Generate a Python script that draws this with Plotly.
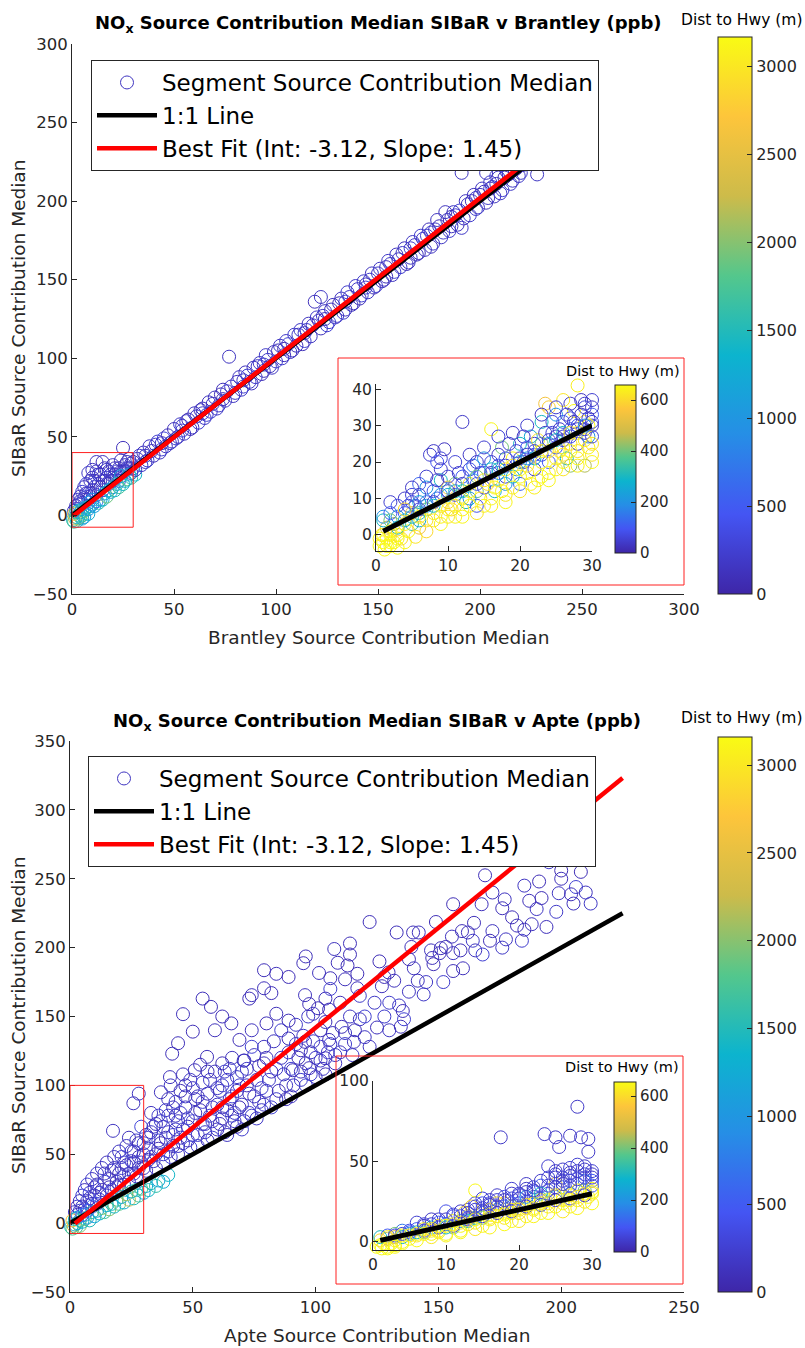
import plotly.graph_objects as go

W, H = 805, 1348
FONT = "DejaVu Sans"
TXT = "#262626"

# ---------------- DATA ----------------
# (reference median, SIBaR median, distance to highway m)
brantley_points = [
    (2, 6, 150), (3, 10, 200), (4, 12, 100), (5, 15, 250), (6, 18, 120), (7, 20, 300), (8, 14, 200),
    (9, 22, 150), (10, 24, 100), (12, 28, 200), (11, 18, 250), (13, 20, 180), (14, 26, 300), (15, 22, 120),
    (16, 30, 100), (17, 24, 220), (18, 28, 160), (19, 22, 90), (20, 32, 150), (21, 26, 200), (22, 24, 300),
    (23, 30, 180), (24, 35, 110), (25, 28, 240), (26, 32, 130), (27, 30, 170), (28, 36, 200), (29, 27, 150),
    (30, 34, 100), (30, 30, 300), (12, 34, 150), (25, 43, 120),
    (1, 3, 140), (2, 4, 220), (3, 7, 160), (4, 9, 90), (5, 8, 200), (6, 11, 250), (7, 14, 120), (8, 10, 180),
    (9, 12, 140), (10, 16, 220), (11, 22, 90), (12, 13, 160), (13, 26, 200), (14, 18, 120), (15, 16, 250),
    (16, 22, 140), (17, 29, 180), (18, 20, 90), (19, 26, 220), (20, 22, 160), (21, 30, 120), (22, 28, 200),
    (23, 22, 250), (24, 28, 140), (26, 28, 180), (27, 34, 90), (28, 30, 160), (29, 33, 220), (15, 34, 120),
    (10, 29, 140), (8, 27, 200),
    (0.5, -3, 1500), (1, -4, 1700), (1.5, -2, 2200), (2, -1, 1400), (2.5, -3.5, 1300), (3, -2, 2000),
    (3.5, 0, 1600), (4, -1, 1900), (5, -2, 1200), (1, 1, 2600), (2, 2, 1800), (3, 3, 1100), (4, 2, 1500),
    (5, 4, 1300), (6, 3, 1700), (7, 5, 1400), (8, 4, 1000), (6, -1, 1100), (9, 6, 1200), (10, 7, 900),
    (12, 9, 700), (14, 10, 1300), (16, 14, 1200), (18, 16, 1400), (20, 18, 1000), (22, 20, 1600),
    (25, 20, 1400), (27, 23, 1800), (28, 26, 1300), (24, 25, 1200),
    (5, 0, 1500), (8, 1, 1300), (11, 6, 1100), (13, 8, 1600), (15, 10, 1400), (17, 12, 1900), (19, 15, 1200),
    (21, 16, 1500), (23, 18, 1700), (26, 22, 1300), (29, 24, 1600), (31, 26, 1400), (8, 8, 900), (10, 10, 1000),
    (32, 36, 150), (34, 32, 200), (35, 40, 120), (37, 35, 260), (38, 44, 180), (40, 38, 100), (42, 47, 220),
    (43, 40, 150), (45, 49, 300), (46, 44, 130), (48, 46, 200), (50, 55, 110), (51, 49, 250), (53, 58, 170),
    (55, 52, 140), (56, 60, 200), (58, 55, 90), (60, 65, 160), (62, 59, 230), (63, 67, 120), (65, 62, 180),
    (67, 72, 140), (68, 66, 260), (70, 75, 150), (72, 70, 200), (74, 80, 110), (75, 73, 170), (77, 101, 150),
    (78, 82, 210), (80, 78, 130), (82, 88, 160), (84, 82, 250), (85, 91, 120), (87, 85, 190), (89, 94, 140),
    (90, 88, 220), (92, 97, 160), (94, 92, 110), (95, 102, 200), (97, 95, 150), (99, 104, 130), (100, 98, 240),
    (102, 108, 170), (104, 102, 120), (105, 111, 190), (107, 104, 150), (109, 115, 210), (110, 108, 130),
    (112, 118, 180), (114, 111, 250), (116, 122, 140), (117, 114, 160), (119, 136, 120), (122, 139, 170),
    (120, 126, 200), (122, 119, 110), (124, 130, 150), (126, 123, 230), (128, 134, 130), (130, 127, 190),
    (132, 138, 160), (134, 131, 110), (135, 142, 220), (137, 134, 140), (139, 146, 180), (141, 138, 120),
    (143, 149, 200), (145, 142, 150), (147, 154, 130), (149, 146, 240), (151, 157, 170), (153, 150, 110),
    (155, 162, 190), (157, 153, 150), (159, 166, 140), (161, 158, 210), (163, 170, 120), (165, 161, 180),
    (167, 174, 160), (169, 166, 130), (171, 178, 230), (173, 169, 150), (175, 182, 110), (177, 173, 200),
    (179, 188, 140), (181, 177, 170), (183, 193, 130), (185, 181, 220), (187, 193, 150), (189, 185, 120),
    (191, 218, 160), (191, 183, 190), (193, 200, 140), (195, 191, 210), (197, 204, 130), (199, 196, 170),
    (201, 208, 150), (203, 199, 110), (205, 212, 190), (207, 203, 140), (209, 215, 160), (211, 207, 230),
    (213, 219, 120), (215, 211, 180), (217, 220, 150), (219, 216, 200), (221, 223, 130), (228, 217, 170),
    (203, 218, 150),
    (31, 29, 140), (33, 38, 220), (36, 34, 160), (39, 41, 90), (41, 45, 200), (44, 42, 250), (47, 51, 120),
    (49, 47, 180), (52, 50, 140), (54, 57, 220), (57, 61, 90), (59, 56, 160), (61, 63, 200), (64, 68, 120),
    (66, 64, 250), (69, 71, 140), (71, 68, 180), (73, 77, 90), (76, 79, 220), (79, 76, 160), (81, 85, 120),
    (83, 80, 200), (86, 89, 250), (88, 84, 140), (91, 95, 180), (93, 90, 90), (96, 99, 220), (98, 94, 160),
    (101, 105, 120), (103, 100, 200), (106, 109, 250), (108, 105, 140), (111, 115, 180), (113, 109, 90),
    (115, 118, 220), (118, 121, 160), (121, 124, 120), (123, 127, 200), (125, 121, 250), (127, 131, 140),
    (129, 126, 180), (131, 135, 90), (133, 129, 220), (136, 139, 160), (138, 135, 120), (140, 144, 200),
    (142, 140, 250), (144, 147, 140), (146, 150, 180), (148, 145, 90), (150, 154, 220), (152, 149, 160),
    (154, 158, 120), (156, 160, 200), (158, 155, 250), (160, 163, 140), (162, 167, 180), (164, 160, 90),
    (166, 170, 220), (168, 172, 160), (170, 167, 120), (172, 176, 200), (174, 178, 250), (176, 171, 140),
    (178, 182, 180), (180, 184, 90), (182, 180, 220), (184, 188, 160), (186, 184, 120), (188, 191, 200),
    (190, 194, 250), (192, 189, 140), (194, 198, 180), (196, 200, 90), (198, 195, 220), (200, 204, 160),
    (202, 206, 120), (204, 202, 200), (206, 209, 250), (208, 211, 140), (210, 205, 180), (212, 215, 90),
    (214, 217, 220), (216, 213, 160), (218, 221, 120), (220, 218, 200), (208, 216, 250), (205, 208, 140),
    (198, 202, 180), (186, 190, 90), (176, 180, 220), (166, 164, 160), (154, 152, 120), (144, 145, 200),
    (134, 136, 250), (124, 125, 140), (114, 116, 180), (104, 106, 90), (94, 96, 220), (84, 86, 160),
    (74, 74, 120), (64, 65, 200), (54, 54, 250), (44, 46, 140), (36, 38, 180),
]

brantley_inset_points = [
    (3, 8, 80), (0.5, -3, 700), (1, -2, 650), (1.2, -4, 800), (1.5, -1, 700), (2, -3, 900), (2.5, -2, 650),
    (3, -3.5, 700), (0.8, 0, 600), (1.5, 2, 500), (2, 0, 620), (3, 0, 680), (3.5, -1, 600), (4, -2, 650),
    (4.5, 1, 700), (2.5, 3, 450), (1, 4, 300), (3, 5, 200), (4, 6, 100), (5, 3, 350), (5.5, -0.5, 620),
    (6, 2, 550), (7, 1, 600), (2, 9, 50), (4, 10, 40), (5, 11, 60), (5.5, 8, 150), (6, 9, 250), (7, 7, 400),
    (8, 6, 640), (8.5, 10, 120), (7.5, 22, 50), (8, 23, 40), (9, 21, 60), (9.5, 23.5, 30), (8.5, 20, 90),
    (6, 14, 120), (7, 13, 200), (9, 15, 300), (10, 13, 550), (10, 9, 600), (11, 11, 80), (11, 5, 650),
    (12, 31, 40), (12, 16, 100), (12.5, 9, 300), (13, 14, 620), (13.5, 19, 150), (14, 12, 400), (14.5, 17, 60),
    (15, 8, 650), (15, 21, 200), (16, 15, 620), (16, 29, 650), (16.5, 12, 300), (17, 19, 100), (17.5, 24, 400),
    (18, 16, 60), (18, 11, 620), (19, 21, 650), (19.5, 18, 200), (20, 14, 120), (20, 25, 300), (20.5, 20, 50),
    (21, 17, 620), (21.5, 27, 250), (22, 22, 80), (22.5, 15, 650), (23, 25, 400), (23, 31, 300), (23.5, 36, 550),
    (24, 35, 580), (24, 20, 100), (24.5, 28, 60), (25, 18, 650), (25, 33, 200), (25.5, 23, 620), (26, 26, 40),
    (26, 31, 120), (26.5, 21, 300), (27, 19, 420), (27, 29, 70), (27.5, 34, 650), (28, 41, 640), (28.5, 41.5, 660),
    (28, 25, 50), (28.5, 37, 30), (29, 35, 60), (29, 31, 620), (29.5, 27, 200), (29.5, 24, 650), (30, 30, 40),
    (30, 22, 620), (29, 19, 450), (30, 33, 100), (28, 28, 620), (26, 24, 650), (22, 18, 60), (18, 14, 200),
    (14, 8, 80), (10, 5, 620), (12, 7, 640), (16, 10, 650), (20, 16, 650), (24, 23, 620), (26, 20, 650),
    (6, 4, 250), (9, 3, 650), (11, 14, 400), (13, 10, 200), (15, 13, 50), (17, 15, 620), (19, 13, 650),
    (21, 22, 40), (23, 16, 660), (25, 27, 50), (27, 25, 620), (29, 28, 30),
    (1, 5, 200), (2, 6, 100), (2, 4, 400), (3, 2, 300), (4, 4, 250), (4.5, 8, 60), (5, 6, 500), (5, 9, 80),
    (6, 6, 350), (6, 11, 50), (7, 9, 150), (7, 4, 620), (8, 12, 90), (8, 8, 300), (8.5, 15, 40), (9, 11, 200),
    (9, 5, 650), (10, 16, 60), (10, 11, 250), (10.5, 7, 600), (11, 8, 620), (11.5, 17, 40), (12, 12, 300),
    (12, 10, 640), (13, 18, 80), (13, 8, 650), (13.5, 15, 200), (14, 20, 50), (14, 16, 400), (14.5, 10, 620),
    (15, 17, 100), (15.5, 14, 600), (16, 20, 60), (16, 18, 300), (16.5, 13, 650), (17, 22, 40), (17, 17, 200),
    (17.5, 12, 640), (18, 21, 90), (18, 18, 620), (18.5, 25, 50), (19, 16, 300), (19.5, 23, 60), (20, 20, 200),
    (20, 18, 650), (20.5, 27, 40), (21, 24, 100), (21, 19, 620), (21.5, 14, 650), (22, 25, 50), (22, 21, 300),
    (22.5, 26, 620), (23, 22, 80), (23, 20, 640), (23.5, 28, 40), (24, 25, 200), (24, 17, 650), (24.5, 31, 60),
    (25, 24, 100), (25, 21, 620), (25.5, 29, 40), (26, 28, 300), (26, 22, 600), (26.5, 33, 50), (27, 27, 80),
    (27, 23, 650), (27.5, 31, 40), (28, 30, 100), (28, 23, 620), (28.5, 33, 30), (29, 29, 50), (29, 26, 640),
    (29.5, 32, 40), (29.5, 30, 650), (30, 27, 60), (30, 25, 620), (30, 35, 40), (28, 21, 650), (27, 36, 40),
    (26, 37, 620),
    (2, 1, 650), (3, 1.5, 600), (4, 3, 640), (5, 5, 300), (6, 7, 60), (7, 8, 200), (8, 9, 40), (9, 8, 620),
    (10, 12, 50), (11, 12, 300), (12, 14, 60), (13, 12, 650), (14, 14, 100), (15, 15, 620), (16, 17, 40),
    (17, 18, 300), (18, 19, 60), (19, 19, 620), (20, 21, 40), (21, 21, 200), (22, 23, 60), (23, 23, 640),
    (24, 26, 40), (25, 26, 300), (26, 27, 60), (27, 28, 620), (28, 29, 40), (29, 30, 200), (30, 31, 60),
    (4, 7, 600), (6, 5, 650), (8, 4, 620), (10, 7, 640), (12, 5, 650), (14, 6, 620), (16, 8, 640), (18, 9, 650),
    (20, 12, 620), (22, 13, 640), (24, 15, 650), (26, 18, 620), (28, 19, 640), (30, 20, 650), (5, 13, 40),
    (7, 16, 50), (9, 18, 40), (11, 20, 60), (13, 22, 40), (15, 24, 50), (17, 27, 60), (19, 28, 40), (21, 30, 50),
    (23, 33, 40), (25, 35, 50), (27, 32, 60), (29, 36, 40), (30, 37, 50), (3, -1, 650), (2, -2, 700),
    (1.5, -3, 800), (0.5, -1, 650), (1, 0, 700),
]

apte_points = [
    (2, 8, 150), (3, 12, 200), (4, 16, 100), (5, 20, 250), (6, 24, 120), (7, 28, 300), (8, 18, 200),
    (9, 32, 150), (10, 26, 100), (11, 36, 200), (12, 22, 250), (13, 40, 180), (14, 30, 300), (15, 44, 120),
    (16, 26, 100), (17, 38, 220), (17.5, 67, 150), (18, 48, 160), (19, 30, 90), (20, 52, 150), (21, 40, 200),
    (22, 34, 300), (23, 56, 180), (24, 62, 110), (25, 45, 240), (25.8, 87, 130), (26, 36, 170), (27, 60, 200),
    (28, 94, 150), (28, 48, 100), (29, 70, 300), (30, 40, 150), (31, 64, 120), (32, 54, 200), (33, 80, 140),
    (34, 45, 180), (35, 72, 110), (36, 60, 250), (37, 95, 130), (38, 50, 170), (39, 82, 200), (40, 66, 140),
    (41, 100, 160), (42, 56, 120), (43, 88, 210), (44, 74, 150), (45, 62, 180), (46, 108, 130), (47, 92, 200),
    (48, 70, 110), (49, 55, 240), (50, 98, 160), (51, 80, 140), (52, 64, 190), (53, 115, 120), (54, 88, 220),
    (55, 72, 150), (56, 60, 130), (57, 104, 180), (58, 84, 200), (60, 68, 140), (61, 96, 160), (62, 76, 120),
    (63, 110, 210), (64, 64, 150), (65, 90, 180), (66, 120, 130), (67, 80, 200), (68, 70, 110), (69, 100, 240),
    (70, 86, 160), (71, 74, 140), (72, 112, 190), (73, 94, 120), (74, 78, 220), (75, 122, 150), (76, 104, 130),
    (77, 88, 180), (78, 82, 200), (79, 128, 140), (80, 96, 160), (82, 110, 120), (84, 90, 210), (86, 120, 150),
    (88, 100, 180), (90, 92, 130), (92, 130, 200), (94, 110, 110), (96, 100, 240), (98, 124, 160),
    (100, 106, 140), (102, 118, 190), (104, 108, 120), (106, 130, 220), (108, 116, 150), (110, 124, 130),
    (112, 138, 180), (115, 122, 200), (118, 148, 140), (120, 135, 160), (125, 142, 120), (130, 160, 210),
    (138, 168, 150), (145, 175, 180), (165, 198, 130),
    (20, 28, 140), (22, 44, 220), (24, 36, 160), (26, 52, 90), (28, 40, 200), (30, 58, 250), (32, 46, 120),
    (33, 66, 180), (35, 50, 140), (36, 78, 220), (37, 58, 90), (38, 70, 160), (40, 52, 200), (40, 90, 120),
    (42, 64, 250), (43, 78, 140), (44, 56, 180), (45, 96, 90), (46, 68, 220), (47, 84, 160), (48, 60, 120),
    (49, 104, 200), (50, 74, 250), (51, 90, 140), (52, 56, 180), (53, 82, 90), (54, 102, 220), (55, 66, 160),
    (56, 94, 120), (57, 78, 200), (58, 62, 250), (59, 110, 140), (60, 86, 180), (61, 72, 90), (62, 100, 220),
    (63, 66, 160), (64, 82, 120), (65, 112, 200), (66, 92, 250), (67, 74, 140), (68, 106, 180), (69, 84, 90),
    (70, 68, 220), (71, 118, 160), (72, 100, 120), (73, 80, 200), (74, 128, 250), (75, 92, 140), (76, 76, 180),
    (77, 114, 90), (78, 98, 220), (79, 86, 160), (80, 120, 120), (81, 104, 200), (82, 84, 250), (83, 132, 140),
    (84, 112, 180), (85, 96, 90), (86, 140, 220), (87, 108, 160), (88, 90, 120), (89, 124, 200), (90, 112, 250),
    (91, 100, 140), (92, 144, 180), (93, 120, 90), (94, 104, 220), (95, 136, 160), (96, 116, 120), (97, 150, 200),
    (98, 108, 250), (99, 132, 140), (100, 120, 180), (101, 156, 90), (102, 128, 220), (103, 112, 160),
    (104, 146, 120), (105, 124, 200), (106, 170, 250), (107, 138, 140), (108, 122, 180), (110, 160, 90),
    (112, 130, 220), (114, 150, 160), (116, 140, 120), (118, 165, 200), (120, 150, 250), (122, 128, 140),
    (124, 160, 180), (126, 190, 90), (128, 150, 220), (130, 140, 160), (132, 176, 120), (134, 158, 200),
    (136, 148, 250), (140, 185, 140), (144, 166, 180), (148, 188, 90), (152, 175, 220), (156, 196, 160),
    (160, 185, 120), (164, 205, 200), (168, 195, 250), (172, 212, 140), (176, 200, 180), (180, 222, 90),
    (184, 205, 220), (190, 228, 160), (194, 215, 120), (198, 226, 200), (206, 244, 250), (210, 240, 140),
    (212, 232, 180), (208, 255, 90), (195, 262, 220), (185, 245, 160), (172, 240, 120),
    (3, 6, 140), (4, 9, 220), (5, 12, 160), (6, 10, 90), (7, 16, 200), (8, 22, 250), (9, 14, 120), (10, 20, 180),
    (11, 28, 140), (12, 17, 220), (13, 24, 90), (14, 36, 160), (15, 20, 200), (16, 32, 120), (17, 24, 250),
    (18, 40, 140), (19, 26, 180), (20, 36, 90), (21, 48, 220), (22, 28, 160), (23, 42, 120), (24, 30, 200),
    (25, 52, 250), (26, 44, 140), (27, 34, 180), (28, 58, 90), (29, 44, 220), (30, 50, 160), (31, 38, 120),
    (32, 62, 200), (33, 48, 250), (34, 70, 140), (35, 40, 180), (36, 54, 90), (37, 74, 220), (38, 44, 160),
    (39, 62, 120), (40, 78, 200), (41, 48, 250), (42, 84, 140), (43, 68, 180), (44, 50, 90), (45, 80, 220),
    (46, 58, 160), (47, 100, 120), (48, 76, 200), (50, 64, 250), (52, 92, 140), (54, 72, 180), (56, 110, 90),
    (58, 74, 220), (60, 98, 160), (62, 84, 120), (64, 104, 200), (66, 78, 250), (68, 96, 140), (70, 110, 180),
    (0.5, -3, 1500), (1, -4, 1800), (1.5, -2, 2300), (2, -1, 1300), (2.5, -3, 1600), (3, 0, 1200),
    (4, -2, 2000), (1, 2, 2700), (2, 3, 1500), (3, 4, 1100), (4, 2, 1700), (5, 1, 1300), (6, 3, 1900),
    (7, 4, 1000), (8, 2, 1500), (10, 5, 1200), (12, 7, 1400), (14, 8, 1700), (16, 10, 2000), (18, 12, 1400),
    (20, 14, 1800), (22, 15, 1300), (24, 17, 2200), (26, 18, 1500), (28, 20, 1700), (30, 22, 1200),
    (32, 24, 1400), (35, 27, 1600), (38, 30, 1300),
    (6, 6, 1400), (9, 8, 1600), (11, 9, 1200), (13, 11, 1900), (15, 13, 1300), (17, 14, 1500), (19, 17, 1700),
    (21, 19, 1200), (23, 21, 2100), (25, 23, 1400), (27, 24, 1600), (29, 25, 1800), (31, 27, 1300),
    (33, 29, 1500), (36, 31, 1200), (40, 35, 1400), (5, 6, 500), (7, 9, 400), (9, 12, 600), (11, 14, 300),
    (169, 252.5, 100), (200, 256, 80), (200, 250, 120), (191, 248, 90), (199, 239.5, 150), (204, 238.7, 100),
    (205, 232, 130), (187, 234, 110), (192, 236, 90), (177, 235, 140), (176, 228.6, 100), (167.6, 231.5, 120),
    (156, 231.5, 90), (182, 216, 110), (188, 217, 130), (185, 213, 100), (177.5, 206, 150), (171, 205, 90),
    (164.5, 218, 110), (162, 211, 120), (159.6, 212, 100), (155.5, 208, 140), (149, 218.6, 90), (142, 211, 130),
    (139.7, 211, 100), (133, 211, 110), (139, 200.5, 120), (151, 199.6, 100), (153, 200.5, 90), (147, 198, 130),
    (150.5, 196, 110), (159, 198, 100), (147.5, 192.5, 120), (138, 191.6, 90), (156, 183, 100), (141.6, 176, 130),
    (122, 218.6, 100), (129.7, 182, 110), (128, 178.7, 90), (127, 172, 120), (114, 203, 100), (107.6, 199, 130),
    (114, 195, 90), (96, 193.6, 110), (95, 188.7, 100), (109, 189, 120), (113, 187, 90), (101.4, 181.6, 130),
    (106, 177.8, 100), (112, 177, 110), (117, 181, 90), (117, 170.5, 120), (135.5, 154, 100), (134.7, 142.6, 110),
    (79, 183.6, 100), (84, 181, 120), (89, 178.7, 90), (79, 170.5, 110), (82, 167, 100), (74, 165.5, 130),
    (73, 163, 90), (54, 163, 110), (57.4, 157, 100), (46, 151.7, 120), (50, 139, 90), (44, 130.6, 110),
    (41.6, 123, 100), (95.7, 165.5, 130), (97.4, 159, 90), (104, 163, 110), (105.5, 155, 100), (99, 152, 120),
    (89, 147, 90), (84, 152, 110), (80, 145, 100), (74, 140, 130), (69, 133, 90), (65.7, 145, 110),
    (62, 150, 100), (59, 140, 120), (89, 134, 90), (95.7, 131.6, 110), (105.5, 133, 100), (115.6, 131.6, 130),
    (110.6, 142.5, 90), (102, 140, 110), (94, 125.5, 100), (104, 119.7, 120), (97.4, 112.5, 90), (90.7, 111, 110),
    (79, 116, 100), (70.7, 118, 130), (62, 116, 90), (55.8, 120.7, 110), (50.8, 111, 100), (40.7, 106, 120),
]

apte_inset_points = [
    (9, 14, 40), (0.5, -3, 700), (1, -2, 650), (1.2, -4, 800), (1.5, -1, 700), (2, -3, 900), (2.5, -1, 650),
    (3, -2, 700), (1, 1, 600), (2, 2, 500), (3, 1, 620), (4, 0, 680), (4, 3, 300), (5, 2, 650), (5, 5, 200),
    (6, 4, 620), (6, 8, 100), (7, 6, 400), (7, 11, 60), (8, 5, 650), (8, 9, 250), (9, 7, 620), (10, 11, 150),
    (10, 5, 650), (11, 16, 80), (11, 9, 400), (12, 13, 200), (12, 7, 650), (13, 20, 50), (13, 11, 620),
    (14, 15, 300), (14, 24, 60), (15, 10, 650), (15, 18, 120), (16, 14, 640), (16, 26, 40), (17, 20, 200),
    (17.5, 65, 40), (18, 15, 620), (18, 28, 80), (19, 22, 400), (19, 13, 650), (20, 18, 600), (20, 30, 60),
    (21, 25, 150), (21, 16, 650), (22, 34, 50), (22, 20, 620), (23, 27, 250), (23, 18, 650), (23.5, 67, 40),
    (24, 47, 50), (24, 32, 80), (24, 22, 620), (25, 65, 40), (25, 28, 300), (25, 36, 500), (25.5, 59, 40),
    (26, 24, 650), (26, 40, 60), (27, 66, 40), (27, 30, 200), (27, 22, 650), (28, 84, 40), (28, 48, 50),
    (28, 36, 80), (28, 26, 620), (28.5, 65, 40), (29, 42, 60), (29, 32, 400), (29.5, 64, 40), (29.5, 56, 40),
    (29.5, 28, 650), (30, 38, 100), (30, 44, 50), (30, 30, 620), (14, 32, 650), (12.5, 18, 600), (6, 12, 50),
    (4, 7, 150), (3, 5, 400), (8, 14, 40), (10, 19, 80), (16, 20, 600), (18, 24, 550), (20, 24, 100),
    (22, 28, 40), (24, 40, 60), (26, 34, 120), (26, 45, 40), (27, 38, 60), (29, 45, 40), (15, 24, 80),
    (13, 16, 500), (11, 13, 650), (9, 10, 620), (7, 8, 640), (19, 27, 60), (21, 31, 40), (23, 35, 100),
    (25, 42, 50), (27, 43, 40), (29, 38, 150), (17, 24, 620), (19, 18, 640), (21, 21, 600), (23, 24, 620),
    (25, 22, 650), (27, 26, 640), (29, 25, 620), (13.5, 22, 600),
    (1, 3, 300), (2, 4, 100), (3, 3, 500), (4, 5, 60), (5, 7, 80), (5, 4, 620), (6, 6, 300), (7, 10, 40),
    (7, 5, 650), (8, 11, 50), (8, 7, 620), (9, 12, 100), (9, 6, 650), (10, 14, 40), (10, 9, 300), (11, 17, 60),
    (11, 11, 620), (12, 16, 80), (12, 10, 650), (13, 18, 40), (13, 13, 300), (14, 20, 50), (14, 12, 620),
    (15, 21, 60), (15, 15, 400), (16, 23, 40), (16, 17, 650), (17, 26, 50), (17, 16, 620), (18, 22, 100),
    (18, 18, 650), (19, 30, 40), (19, 20, 620), (20, 27, 60), (20, 21, 650), (21, 33, 40), (21, 23, 620),
    (22, 31, 80), (22, 24, 650), (23, 38, 40), (23, 26, 620), (24, 30, 60), (24, 26, 650), (25, 34, 40),
    (25, 29, 620), (26, 38, 60), (26, 28, 650), (27, 41, 40), (27, 29, 620), (28, 44, 40), (28, 32, 650),
    (29, 40, 60), (29, 30, 620), (30, 42, 40), (30, 33, 650), (30, 35, 100), (27, 35, 60), (25, 40, 40),
    (23, 30, 300), (21, 28, 200), (19, 24, 100), (17, 22, 60), (15, 19, 40), (13, 15, 80),
    (2, 3, 620), (3, 4, 60), (4, 4, 650), (5, 6, 100), (6, 5, 640), (7, 7, 60), (8, 8, 620), (9, 9, 40),
    (10, 10, 650), (11, 10, 60), (12, 12, 620), (13, 14, 40), (14, 14, 650), (15, 16, 60), (16, 15, 620),
    (17, 18, 40), (18, 17, 650), (19, 19, 60), (20, 20, 620), (21, 22, 40), (22, 21, 650), (23, 23, 60),
    (24, 24, 620), (25, 26, 40), (26, 26, 650), (27, 27, 60), (28, 28, 620), (29, 29, 40), (30, 31, 650),
    (12, 19, 40), (14, 22, 60), (16, 24, 50), (18, 26, 40), (20, 29, 60), (22, 32, 40), (24, 35, 50),
    (26, 36, 40), (28, 39, 60), (30, 40, 40), (29, 47, 40), (27, 46, 60), (25, 44, 40), (21, 36, 40),
    (19, 33, 50), (17, 29, 40), (15, 27, 60), (4, -1, 650), (3, -3, 700), (2, -4, 800), (6, 1, 650),
    (8, 3, 620), (10, 4, 640), (12, 6, 650), (14, 8, 620), (16, 9, 640), (18, 11, 650), (20, 13, 620),
    (22, 16, 640), (24, 18, 650), (26, 19, 620), (28, 21, 640), (30, 24, 650),
]

# reference lines
brantley_line_x = [0, 220]          # 1:1 line extent
brantley_fit_x = [1, 220]
brantley_fit_int, brantley_fit_slope = -1.0, 1.015
apte_line_x = [0, 225]
apte_fit_x = [2, 225]
apte_fit_int, apte_fit_slope = -3.12, 1.45
inset_line_x = [1, 30]

dist_ticks_main = [0, 500, 1000, 1500, 2000, 2500, 3000]
dist_ticks_inset = [0, 200, 400, 600]

# ---------------- STYLE ----------------
PARULA = [[0.0, "#3e26a8"], [1/7, "#4455f3"], [2/7, "#268ee6"], [3/7, "#0cb4ce"],
          [4/7, "#54c78c"], [5/7, "#cdbb4a"], [6/7, "#fdc53b"], [1.0, "#f9fb14"]]


def px(x):
    return x / W


def py(y):
    return 1 - y / H


def unzip(points):
    return [p[0] for p in points], [p[1] for p in points], [p[2] for p in points]


def cbar(x0, ytop, length, thick, ticks, size):
    return dict(x=px(x0), xanchor="left", y=py(ytop), yanchor="top", len=length, lenmode="pixels",
                thickness=thick, xpad=0, ypad=0, outlinewidth=1, outlinecolor=TXT,
                ticks="inside", ticklen=5, tickcolor=TXT, tickvals=ticks,
                tickfont=dict(family=FONT, size=size, color=TXT))


fig = go.Figure()


def add_panel(points, line_x, fit_x, fit_int, fit_slope, xa, ya, cmax, cb, legend):
    xs, ys, ds = unzip(points)
    fig.add_trace(go.Scatter(
        x=xs, y=ys, mode="markers", xaxis=xa, yaxis=ya, name="Segment Source Contribution Median",
        legend=legend, cliponaxis=False,
        marker=dict(symbol="circle-open", size=13, color=ds, colorscale=PARULA, cmin=0, cmax=cmax,
                    line=dict(width=1), showscale=True, colorbar=cb)))
    fig.add_trace(go.Scatter(x=line_x, y=line_x, mode="lines", xaxis=xa, yaxis=ya, name="1:1 Line",
                             legend=legend, line=dict(color="black", width=4.5)))
    fit_y = [fit_int + fit_slope * v for v in fit_x]
    fig.add_trace(go.Scatter(x=fit_x, y=fit_y, mode="lines", xaxis=xa, yaxis=ya,
                             name="Best Fit (Int: -3.12, Slope: 1.45)", legend=legend,
                             line=dict(color="#ff0000", width=4.5)))


def add_inset(points, xa, ya, cmax, cb):
    xs, ys, ds = unzip(points)
    fig.add_trace(go.Scatter(
        x=xs, y=ys, mode="markers", xaxis=xa, yaxis=ya, showlegend=False, cliponaxis=False,
        marker=dict(symbol="circle-open", size=13, color=ds, colorscale=PARULA, cmin=0, cmax=cmax,
                    line=dict(width=1), showscale=True, colorbar=cb)))
    fig.add_trace(go.Scatter(x=inset_line_x, y=inset_line_x, mode="lines", xaxis=xa, yaxis=ya,
                             showlegend=False, line=dict(color="black", width=5)))


add_panel(brantley_points, brantley_line_x, brantley_fit_x, brantley_fit_int, brantley_fit_slope,
          "x", "y", 3165, cbar(718, 37, 557, 34, dist_ticks_main, 16), "legend")
add_inset(brantley_inset_points, "x2", "y2", 659, cbar(615, 385, 168, 21, dist_ticks_inset, 15))
add_panel(apte_points, apte_line_x, apte_fit_x, apte_fit_int, apte_fit_slope,
          "x3", "y3", 3160, cbar(718, 737, 555, 34, dist_ticks_main, 16), "legend2")
add_inset(apte_inset_points, "x4", "y4", 654, cbar(614, 1082, 170, 22, dist_ticks_inset, 15))


def axis(domain, rng, ticks, anchor, size):
    return dict(domain=domain, range=rng, tickvals=ticks, anchor=anchor, showline=True, linecolor=TXT,
                linewidth=1, ticks="inside", ticklen=5, tickcolor=TXT, tickwidth=1, showgrid=False,
                zeroline=False, mirror=False, fixedrange=True, automargin=False,
                tickfont=dict(family=FONT, size=size, color=TXT))


legend_style = dict(xanchor="left", yanchor="top", bgcolor="white", bordercolor=TXT, borderwidth=1,
                    font=dict(family=FONT, size=23, color="black"), itemwidth=60,
                    tracegroupgap=0)

fig.update_layout(
    width=W, height=H, autosize=False,
    margin=dict(l=0, r=0, t=0, b=0, autoexpand=False),
    paper_bgcolor="white", plot_bgcolor="white",
    font=dict(family=FONT, color=TXT),
    xaxis=axis([px(72), px(684)], [0, 300], [0, 50, 100, 150, 200, 250, 300], "y", 16.5),
    yaxis=axis([py(594), py(44)], [-50, 300], [-50, 0, 50, 100, 150, 200, 250, 300], "x", 16.5),
    xaxis2=axis([px(376), px(592)], [0, 30], [0, 10, 20, 30], "y2", 15.5),
    yaxis2=axis([py(551), py(384)], [-4.4, 41.4], [0, 10, 20, 30, 40], "x2", 15.5),
    xaxis3=axis([px(70), px(684)], [0, 250], [0, 50, 100, 150, 200, 250], "y3", 16.5),
    yaxis3=axis([py(1292), py(741)], [-50, 350], [-50, 0, 50, 100, 150, 200, 250, 300, 350], "x3", 16.5),
    xaxis4=axis([px(373), px(592)], [0, 30], [0, 10, 20, 30], "y4", 15.5),
    yaxis4=axis([py(1250), py(1081)], [-5, 100], [0, 50, 100], "x4", 15.5),
    legend=dict(x=px(91), y=py(60), **legend_style),
    legend2=dict(x=px(88), y=py(756), **legend_style),
)

red = dict(color="#ff2020", width=1)
fig.add_shape(type="rect", xref="x", yref="y", x0=0, x1=30, y0=-7.5, y1=40, line=red)
fig.add_shape(type="rect", xref="x3", yref="y3", x0=0, x1=30, y0=-7.5, y1=100, line=red)
fig.add_shape(type="rect", xref="paper", yref="paper", x0=px(338), x1=px(684), y0=py(585), y1=py(358), line=red)
fig.add_shape(type="rect", xref="paper", yref="paper", x0=px(336), x1=px(683), y0=py(1284), y1=py(1056), line=red)


def note(text, x, y, size, xanchor="center", angle=0, color=TXT):
    fig.add_annotation(text=text, x=px(x), y=py(y), xref="paper", yref="paper", showarrow=False,
                       xanchor=xanchor, yanchor="middle", textangle=angle,
                       font=dict(family=FONT, size=size, color=color))


note("<b>NO<sub>x</sub> Source Contribution Median SIBaR v Brantley (ppb)</b>", 378, 24, 18, color="black")
note("<b>NO<sub>x</sub> Source Contribution Median SIBaR v Apte (ppb)</b>", 377, 722, 18, color="black")
note("SIBaR Source Contribution Median", 18, 319, 18.5, angle=-90)
note("SIBaR Source Contribution Median", 18, 1016, 18.5, angle=-90)
note("Brantley Source Contribution Median", 378, 637, 18.5)
note("Apte Source Contribution Median", 377, 1335, 18.5)
note("Dist to Hwy (m)", 804, 20, 15.5, xanchor="right", color="black")
note("Dist to Hwy (m)", 804, 718, 15.5, xanchor="right", color="black")
note("Dist to Hwy (m)", 682, 371, 14.5, xanchor="right", color="black")
note("Dist to Hwy (m)", 681, 1067, 14.5, xanchor="right", color="black")

# the default page adds an 8px body margin; remove it so the figure sits at the window origin
fig.write_html("out.html", config={"displayModeBar": False},
               post_script="document.body.style.margin='0';document.body.style.overflow='hidden';")
